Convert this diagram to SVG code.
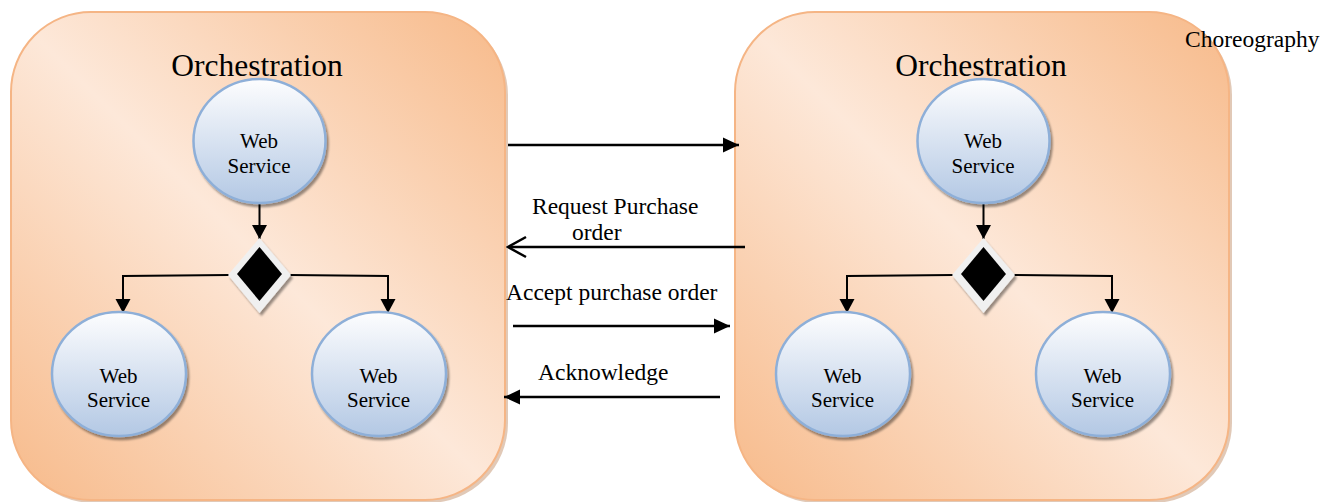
<svg xmlns="http://www.w3.org/2000/svg" width="1323" height="502" viewBox="0 0 1323 502">
<style>
.box{fill:url(#boxg);stroke:#f5b585;stroke-width:2}
.boxsh{fill:#c99c7c;opacity:0.55}
.ws{fill:url(#wsg);stroke:#8eafd8;stroke-width:2.5;filter:url(#sh)}
.t{font-family:"Liberation Serif","Times New Roman",serif;fill:#000}
.ws-t{font-size:21px;text-anchor:middle}
.title{font-size:31.5px;text-anchor:middle}
.lbl{font-size:23.5px}
.ln{fill:none;stroke:#000;stroke-width:2}
.mln{fill:none;stroke:#000;stroke-width:2.5}
.dout{fill:#f0f0f0;filter:url(#sh)}
.din{fill:#000}
</style>
<defs>
<linearGradient id="boxg" x1="1" y1="0" x2="0" y2="1">
<stop offset="0" stop-color="#f7ba8a"/>
<stop offset="0.5" stop-color="#fde8d9"/>
<stop offset="1" stop-color="#f7ba8a"/>
</linearGradient>
<linearGradient id="wsg" x1="0" y1="0" x2="0" y2="1">
<stop offset="0" stop-color="#fdfdfe"/>
<stop offset="1" stop-color="#b3c8e4"/>
</linearGradient>
<filter id="sh" x="-20%" y="-20%" width="150%" height="150%">
<feDropShadow dx="2" dy="3" stdDeviation="1.2" flood-color="#000" flood-opacity="0.4"/>
</filter>
<marker id="ah" markerUnits="userSpaceOnUse" markerWidth="16" markerHeight="18" viewBox="0 0 16 18" refX="15" refY="9" orient="auto">
<path d="M1,1.5 L15,9 L1,16.5 Z" fill="#000"/>
</marker>
<marker id="ahm" markerUnits="userSpaceOnUse" markerWidth="18" markerHeight="18" viewBox="0 0 18 18" refX="17" refY="9" orient="auto">
<path d="M1,1.5 L17,9 L1,16.5 Z" fill="#000"/>
</marker>
<marker id="aho" markerUnits="userSpaceOnUse" markerWidth="22" markerHeight="26" viewBox="0 0 22 26" refX="20" refY="13" orient="auto">
<path d="M2,3 L20,13 L2,23" fill="none" stroke="#000" stroke-width="2.5"/>
</marker>
</defs>

<g id="left-box">
<rect class="boxsh" x="14" y="15" width="494" height="488" rx="80"/>
<rect class="box" x="11" y="12" width="494" height="488" rx="80"/>
<text class="t title" x="257" y="76">Orchestration</text>
</g>
<g id="right-box">
<rect class="boxsh" x="738" y="15" width="494" height="488" rx="80"/>
<rect class="box" x="735" y="12" width="494" height="488" rx="80"/>
<text class="t title" x="981" y="76">Orchestration</text>
</g>

<g id="connectors">
<line class="ln" x1="259.5" y1="203" x2="259.5" y2="239" marker-end="url(#ah)"/>
<polyline class="ln" points="229,275 123,276 123,313" marker-end="url(#ah)"/>
<polyline class="ln" points="290,275 388,276 388,313" marker-end="url(#ah)"/>
<line class="ln" x1="983.5" y1="203" x2="983.5" y2="239" marker-end="url(#ah)"/>
<polyline class="ln" points="953,275 847,276 847,313" marker-end="url(#ah)"/>
<polyline class="ln" points="1014,275 1112,276 1112,313" marker-end="url(#ah)"/>
<line class="mln" x1="508" y1="145" x2="739" y2="145" marker-end="url(#ahm)"/>
<line class="mln" x1="745" y1="247" x2="508" y2="247" marker-end="url(#aho)"/>
<line class="mln" x1="513" y1="326" x2="730" y2="326" marker-end="url(#ahm)"/>
<line class="mln" x1="720" y1="397" x2="504" y2="397" marker-end="url(#ahm)"/>
</g>

<g id="l-ws-top">
<ellipse class="ws" cx="259.5" cy="141" rx="66" ry="62"/>
<text class="t ws-t" x="259" y="148">Web</text>
<text class="t ws-t" x="259" y="173">Service</text>
</g>
<g id="l-gateway">
<polygon class="dout" points="259.5,238 291,275 259.5,313 228,275"/>
<polygon class="din" points="259.5,247 282,274 259.5,301 237,274"/>
</g>
<g id="l-ws-left">
<ellipse class="ws" cx="119" cy="374" rx="67" ry="62"/>
<text class="t ws-t" x="118.5" y="383">Web</text>
<text class="t ws-t" x="118.5" y="407">Service</text>
</g>
<g id="l-ws-right">
<ellipse class="ws" cx="379" cy="374" rx="67" ry="62"/>
<text class="t ws-t" x="378.5" y="383">Web</text>
<text class="t ws-t" x="378.5" y="407">Service</text>
</g>

<g id="r-ws-top">
<ellipse class="ws" cx="983.5" cy="141" rx="66" ry="62"/>
<text class="t ws-t" x="983" y="148">Web</text>
<text class="t ws-t" x="983" y="173">Service</text>
</g>
<g id="r-gateway">
<polygon class="dout" points="983.5,238 1015,275 983.5,313 952,275"/>
<polygon class="din" points="983.5,247 1006,274 983.5,301 961,274"/>
</g>
<g id="r-ws-left">
<ellipse class="ws" cx="843" cy="374" rx="67" ry="62"/>
<text class="t ws-t" x="842.5" y="383">Web</text>
<text class="t ws-t" x="842.5" y="407">Service</text>
</g>
<g id="r-ws-right">
<ellipse class="ws" cx="1103" cy="374" rx="67" ry="62"/>
<text class="t ws-t" x="1102.5" y="383">Web</text>
<text class="t ws-t" x="1102.5" y="407">Service</text>
</g>

<g id="labels">
<text class="t lbl" x="1185" y="47">Choreography</text>
<text class="t lbl" x="532" y="214">Request Purchase</text>
<text class="t lbl" x="572" y="240">order</text>
<text class="t lbl" x="506" y="300">Accept purchase order</text>
<text class="t lbl" x="538" y="380">Acknowledge</text>
</g>
</svg>
